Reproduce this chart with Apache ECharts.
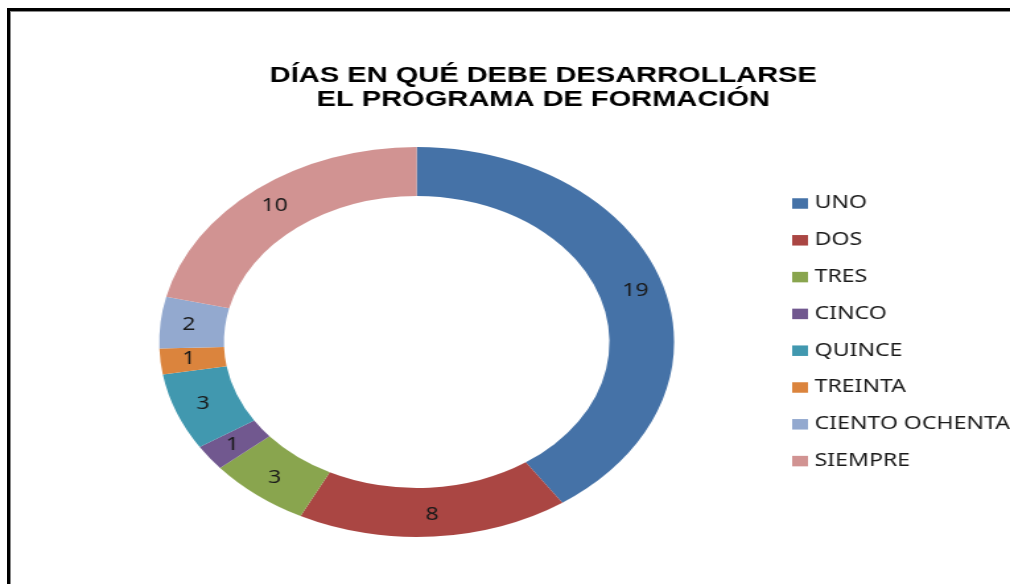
<!DOCTYPE html>
<html>
<head>
<meta charset="utf-8">
<script src="https://cdn.jsdelivr.net/npm/echarts@6/dist/echarts.min.js"></script>
<style>
  html, body { margin: 0; padding: 0; background: #fff; }
  body { width: 1010px; height: 584px; position: relative; overflow: hidden; }
  /* the original picture is stretched sideways, so draw at 765px and widen it */
  #chart { position: absolute; left: 0; top: 0; width: 765px; height: 584px;
           transform: scaleX(1.320261); transform-origin: 0 0; }
  #frame { position: absolute; left: 7px; top: 8px; right: -10px; bottom: -10px;
           border-left: 3px solid #000; border-top: 3px solid #000;
           box-shadow: inset 1px 1px 0 #8a8a8a; pointer-events: none; }
</style>
</head>
<body>
<div id="chart"></div>
<div id="frame"></div>
<script>
var titleLines = ['DÍAS EN QUÉ DEBE DESARROLLARSE', 'EL PROGRAMA DE FORMACIÓN'];
var categories = ['UNO', 'DOS', 'TRES', 'CINCO', 'QUINCE', 'TREINTA', 'CIENTO OCHENTA', 'SIEMPRE'];
var values = [19, 8, 3, 1, 3, 1, 2, 10];

var palette = ['#4572a7', '#aa4643', '#89a54e', '#71588f', '#4198af', '#db843d', '#93a9cf', '#d19392'];

var myChart = echarts.init(document.getElementById('chart'));

var pieData = [];
for (var i = 0; i < categories.length; i++) {
  pieData.push({ name: categories[i], value: values[i] });
}

var option = {
  animation: false,
  color: palette,
  title: {
    text: titleLines.join('\n'),
    left: 411.5,
    top: 63.5,
    padding: 0,
    textAlign: 'center',
    textStyle: {
      fontFamily: 'Liberation Sans, Arial, sans-serif',
      fontWeight: 'bold',
      fontSize: 22,
      lineHeight: 24,
      color: '#000'
    }
  },
  legend: {
    orient: 'vertical',
    left: 600,
    top: 194.5,
    padding: 0,
    itemWidth: 12,
    itemHeight: 10.5,
    itemGap: 18.8,
    icon: 'rect',
    selectedMode: false,
    textStyle: {
      fontFamily: 'Noto Sans, sans-serif',
      fontSize: 17.5,
      color: '#1a1a1a',
      padding: [0, 0, 0, 0]
    },
    data: categories
  },
  series: [
    {
      type: 'pie',
      center: [315.6, 342],
      radius: [146, 195],
      startAngle: 90,
      clockwise: true,
      avoidLabelOverlap: false,
      silent: true,
      itemStyle: { borderWidth: 0 },
      label: {
        show: true,
        position: 'inside',
        formatter: '{c}',
        fontFamily: 'Noto Sans, sans-serif',
        fontSize: 17.5,
        color: '#1a1a1a'
      },
      labelLine: { show: false },
      data: pieData
    }
  ]
};

myChart.setOption(option);
</script>
</body>
</html>
